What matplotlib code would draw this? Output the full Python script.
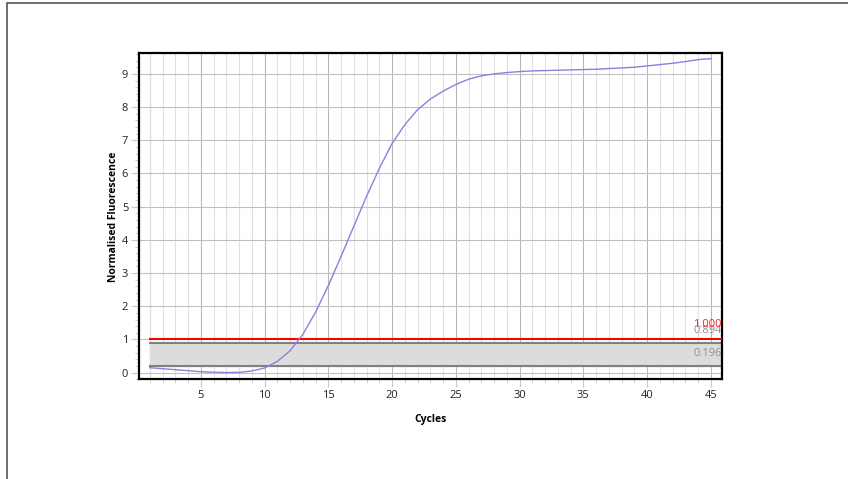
import matplotlib.pyplot as plt
from matplotlib.patches import Rectangle
from matplotlib.ticker import MultipleLocator

plt.rcParams['font.family'] = ['Open Sans', 'DejaVu Sans']

cycles = list(range(1, 46))
fluor = [0.15, 0.12, 0.09, 0.06, 0.03, 0.015, 0.005, 0.01, 0.05, 0.14,
         0.34, 0.66, 1.15, 1.82, 2.62, 3.5, 4.41, 5.31, 6.15, 6.9,
         7.47, 7.92, 8.24, 8.48, 8.68, 8.84, 8.94, 9.0, 9.04, 9.07,
         9.09, 9.1, 9.11, 9.12, 9.13, 9.14, 9.16, 9.18, 9.2, 9.24,
         9.28, 9.32, 9.37, 9.43, 9.46]

threshold = 1.000
band_top = 0.894
band_bottom = 0.196

fig = plt.figure(figsize=(8.48, 4.79), dpi=100)
fig.patches.append(Rectangle((7 / 848, -0.2), 1.2, 1.2 - 3 / 479, transform=fig.transFigure,
                             fill=False, edgecolor='#555555', linewidth=1.2))
ax = fig.add_axes([0.1643, 0.2081, 0.6871, 0.6806])

ax.set_xlim(0.18, 45.88)
ax.set_ylim(-0.2, 9.62)

ax.xaxis.set_major_locator(MultipleLocator(5))
ax.xaxis.set_minor_locator(MultipleLocator(1))
ax.yaxis.set_major_locator(MultipleLocator(1))
ax.yaxis.set_minor_locator(MultipleLocator(0.2))

ax.grid(which='major', axis='x', color='#b8b8b8', linewidth=0.8)
ax.grid(which='minor', axis='x', color='#e0e0e0', linewidth=0.8)
ax.grid(which='major', axis='y', color='#c0c0c0', linewidth=0.8)
ax.axvline(1, color='#c0c0c0', linewidth=0.8, zorder=0.5)
ax.set_axisbelow(True)

ax.tick_params(which='major', length=6, color='#c8c8c8', labelsize=8, labelcolor='#222222', pad=2)
ax.tick_params(which='minor', length=3, color='#c8c8c8')
for s in ax.spines.values():
    s.set_linewidth(1.6)
    s.set_color('black')

# threshold band
xs = [1, 45.88]
ax.fill_between(xs, band_bottom, band_top, color='#dcdcdc', zorder=1)
ax.plot(xs, [band_top, band_top], color='#808080', linewidth=1.5, zorder=2)
ax.plot(xs, [band_bottom, band_bottom], color='#808080', linewidth=1.5, zorder=2)
ax.plot(xs, [threshold, threshold], color='#ff0000', linewidth=1.5, zorder=3)

ax.plot(cycles, fluor, color='#8b80de', linewidth=1.0, zorder=4)

for val, col, off in [(band_top, '#909090', 5), (threshold, '#ff2020', 6.5), (band_bottom, '#909090', 5.5)]:
    ax.annotate(f'{val:.3f}', xy=(45.85, val), xytext=(0, off), textcoords='offset points',
                ha='right', va='bottom', fontsize=8, color=col, zorder=5)

ax.set_xlabel('Cycles', fontsize=7.5, fontweight='bold', labelpad=9)
ax.set_ylabel('Normalised Fluorescence', fontsize=7.5, fontweight='bold', labelpad=2)

fig.savefig('out.png', dpi=100)
